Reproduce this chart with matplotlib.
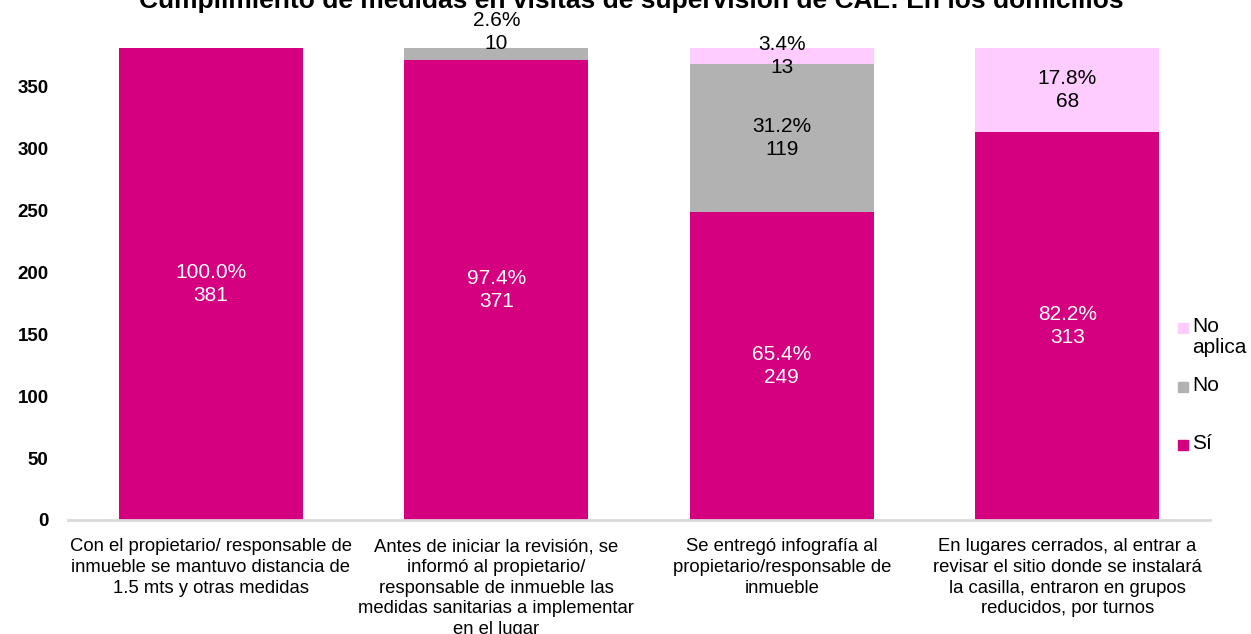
import numpy as np
import matplotlib.pyplot as plt
import matplotlib as mpl
from matplotlib.patches import Rectangle

mpl.rcParams['font.family'] = ['Liberation Sans', 'DejaVu Sans']

categories = ['Con el propietario/ responsable de\ninmueble se mantuvo distancia de\n1.5 mts y otras medidas',
              'Antes de iniciar la revisión, se\ninformó al propietario/\nresponsable de inmueble las\nmedidas sanitarias a implementar\nen el lugar',
              'Se entregó infografía al\npropietario/responsable de\ninmueble',
              'En lugares cerrados, al entrar a\nrevisar el sitio donde se instalará\nla casilla, entraron en grupos\nreducidos, por turnos']
si = [381, 371, 249, 313]
no = [0, 10, 119, 0]
no_aplica = [0, 0, 13, 68]
pct_si = ['100.0%', '97.4%', '65.4%', '82.2%']
pct_no = ['', '2.6%', '31.2%', '']
pct_na = ['', '', '3.4%', '17.8%']

c_si = '#D5007F'
c_no = '#B2B2B2'
c_na = '#FFCCFF'

W, H = 1251, 634
fig = plt.figure(figsize=(W/100, H/100), dpi=100)
ax = fig.add_axes([68/W, 1-520/H, (1210-68)/W, (520-48)/H])

x = np.arange(len(categories))
w = 0.645
si = np.array(si)
no = np.array(no)
no_aplica = np.array(no_aplica)

ax.bar(x, si, w, color=c_si, zorder=2)
ax.bar(x, no, w, bottom=si, color=c_no, zorder=2)
ax.bar(x, no_aplica, w, bottom=si+no, color=c_na, zorder=2)

fs = 15
ls = 1.27
for i in range(len(x)):
    ax.text(x[i], si[i]/2, f'{pct_si[i]}\n{si[i]}', ha='center', va='center',
            color='white', fontsize=fs, linespacing=ls, zorder=3)
    if no[i] > 0:
        y = si[i] + no[i]/2
        if no[i] < 12:
            y += 18  # Excel pushed this small label above the bar
        ax.text(x[i], y, f'{pct_no[i]}\n{no[i]}', ha='center', va='center',
                color='black', fontsize=fs, linespacing=ls, zorder=3, clip_on=False)
    if no_aplica[i] > 0:
        y = si[i] + no[i] + no_aplica[i]/2
        ax.text(x[i], y, f'{pct_na[i]}\n{no_aplica[i]}', ha='center', va='center',
                color='black', fontsize=fs, linespacing=ls, zorder=3, clip_on=False)

ax.set_xlim(-0.5, 3.5)
ax.set_ylim(0, 381)
ax.set_yticks(range(0, 351, 50))
ax.set_xticks(x)
ax.set_xticklabels(categories, fontsize=13.3, linespacing=1.29)
ax.tick_params(axis='both', length=0)
ax.tick_params(axis='x', pad=13)
ax.tick_params(axis='y', pad=14)
for lab in ax.get_yticklabels():
    lab.set_fontweight('bold')
    lab.set_fontsize(13.5)

for s in ['top', 'right', 'left']:
    ax.spines[s].set_visible(False)
ax.spines['bottom'].set_color('#D9D9D9')
ax.spines['bottom'].set_linewidth(2)

# legend drawn by hand so the square sits on the first text line, like Excel
legend_items = [(c_na, 'No\naplica', 328), (c_no, 'No', 387), (c_si, 'Sí', 445)]
for col, txt, ypix in legend_items:
    fig.patches.append(Rectangle((1178/W, 1-(ypix+5)/H), 10/W, 10/H,
                                 transform=fig.transFigure, color=col))
    fig.text(1192/W, 1-(ypix-11)/H, txt, ha='left', va='top',
             fontsize=15, linespacing=1.15)

fig.text(0.505, 1-8/H, 'Cumplimiento de medidas en visitas de supervisión de CAE: En los domicilios',
         ha='center', va='baseline', fontsize=19, fontweight='bold')

plt.savefig('out.png', dpi=100)
